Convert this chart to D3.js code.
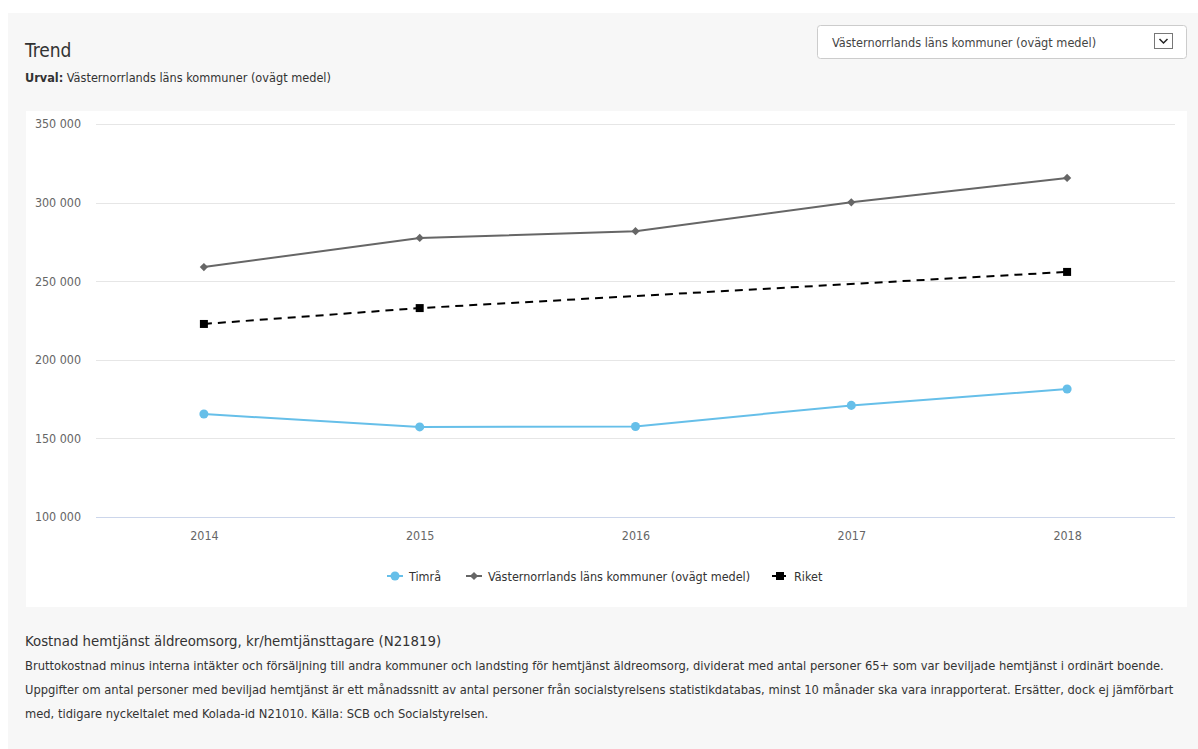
<!DOCTYPE html>
<html>
<head>
<meta charset="utf-8">
<script src="https://cdn.jsdelivr.net/npm/d3@7"></script>
<style>
  html, body { margin: 0; padding: 0; background: #ffffff; }
  svg { display: block; font-family: "DejaVu Sans Condensed", "DejaVu Sans", sans-serif; }
</style>
</head>
<body>
<svg id="chart" width="1198" height="749"></svg>
<script>
// Years on the x axis
const years = ["2014", "2015", "2016", "2017", "2018"];
// Cost per home-care recipient (kr)
const timra = [165500, 157300, 157600, 171000, 181400];
const vasternorrland = [259000, 277500, 281800, 300200, 315700];
const riket = [222800, 232900, null, null, 255900];
// Y axis ticks
const yTicks = [100000, 150000, 200000, 250000, 300000, 350000];

const seriesNames = ["Timrå", "Västernorrlands läns kommuner (ovägt medel)", "Riket"];

const svg = d3.select("#chart");

// Page and panel backgrounds
svg.append("rect").attr("x", 8).attr("y", 13).attr("width", 1190).attr("height", 736).attr("fill", "#f7f7f7");
svg.append("rect").attr("x", 26).attr("y", 111).attr("width", 1161).attr("height", 496).attr("fill", "#ffffff");

// Header
svg.append("text").attr("x", 25).attr("y", 57).attr("font-size", 19).attr("fill", "#333").text("Trend");
const urval = svg.append("text").attr("x", 25).attr("y", 82).attr("font-size", 12.6).attr("fill", "#333");
urval.append("tspan").attr("font-weight", "bold").text("Urval:");
urval.append("tspan").text(" Västernorrlands läns kommuner (ovägt medel)");

// Selection box
svg.append("rect").attr("x", 817.5).attr("y", 25.5).attr("width", 369).attr("height", 33).attr("rx", 3)
  .attr("fill", "#fff").attr("stroke", "#ccc");
svg.append("text").attr("x", 832).attr("y", 47).attr("font-size", 12.6).attr("fill", "#444")
  .text("Västernorrlands läns kommuner (ovägt medel)");
svg.append("rect").attr("x", 1154.5).attr("y", 33.5).attr("width", 18).attr("height", 15)
  .attr("fill", "#fff").attr("stroke", "#777");
svg.append("path").attr("d", "M1159.5,39 L1163.5,43 L1167.5,39").attr("fill", "none")
  .attr("stroke", "#222").attr("stroke-width", 1.5);

// Scales
const x = d3.scalePoint().domain(years).range([96, 1175]).padding(0.5);
const y = d3.scaleLinear().domain([100000, 350000]).range([517, 124]);

const fmt = v => d3.format(",")(v).replace(/,/g, " ");

// Grid lines
svg.append("g").selectAll("line").data(yTicks.filter(t => t > 100000)).join("line")
  .attr("x1", 96).attr("x2", 1175)
  .attr("y1", d => Math.round(y(d)) + 0.5).attr("y2", d => Math.round(y(d)) + 0.5)
  .attr("stroke", "#e6e6e6");

// Y axis labels
const yAxis = svg.append("g").attr("transform", "translate(81,0)")
  .call(d3.axisLeft(y).tickValues(yTicks).tickFormat(fmt).tickSize(0).tickPadding(0));
yAxis.select(".domain").remove();
yAxis.selectAll("text").attr("font-size", 12.4).attr("fill", "#666")
  .attr("font-family", "'DejaVu Sans Condensed', sans-serif");

// X axis
const xAxis = svg.append("g").attr("transform", "translate(0,517.5)")
  .call(d3.axisBottom(x).tickSize(0).tickPadding(14));
xAxis.select(".domain").attr("stroke", "#ccd6eb").attr("d", "M96,0H1175");
xAxis.selectAll("text").attr("font-size", 12.4).attr("fill", "#666")
  .attr("font-family", "'DejaVu Sans Condensed', sans-serif");

// Rhombus marker: a square turned 45 degrees
const rhombus = {
  draw(ctx, size) {
    const r = Math.sqrt(size) / 2 * Math.SQRT2;
    ctx.moveTo(0, -r); ctx.lineTo(r, 0); ctx.lineTo(0, r); ctx.lineTo(-r, 0); ctx.closePath();
  }
};

// Series definitions
const series = [
  { name: seriesNames[0], values: timra, color: "#66bfe9", dash: null, symbol: d3.symbolCircle, size: 64 },
  { name: seriesNames[1], values: vasternorrland, color: "#666666", dash: null, symbol: rhombus, size: 34 },
  { name: seriesNames[2], values: riket, color: "#000000", dash: "8,6", symbol: d3.symbolSquare, size: 64 }
];

const line = d3.line().x(d => x(d.year)).y(d => y(d.value));

series.forEach(s => {
  const pts = years.map((yr, i) => ({ year: yr, value: s.values[i] })).filter(p => p.value != null);
  svg.append("path").datum(pts).attr("d", line)
    .attr("fill", "none").attr("stroke", s.color).attr("stroke-width", 2)
    .attr("stroke-dasharray", s.dash);
  svg.append("g").selectAll("path").data(pts).join("path")
    .attr("transform", d => `translate(${x(d.year)},${y(d.value)})`)
    .attr("d", d3.symbol().type(s.symbol).size(s.size))
    .attr("fill", s.color);
});

// Legend
const legendX = [387, 466, 772];
const legend = svg.append("g");
series.forEach((s, i) => {
  const g = legend.append("g").attr("transform", `translate(${legendX[i]},576)`);
  g.append("line").attr("x1", 0).attr("x2", 16).attr("y1", 0).attr("y2", 0)
    .attr("stroke", s.color).attr("stroke-width", 2).attr("stroke-dasharray", s.dash ? "6,2" : null);
  g.append("path").attr("transform", "translate(8,0)")
    .attr("d", d3.symbol().type(s.symbol).size(s.size)).attr("fill", s.color);
  g.append("text").attr("x", 22).attr("y", 4.5).attr("font-size", 12.5).attr("fill", "#333").text(s.name);
});

// Description
svg.append("text").attr("x", 25).attr("y", 646).attr("font-size", 14.8).attr("fill", "#333")
  .text("Kostnad hemtjänst äldreomsorg, kr/hemtjänsttagare (N21819)");
const desc = [
  "Bruttokostnad minus interna intäkter och försäljning till andra kommuner och landsting för hemtjänst äldreomsorg, dividerat med antal personer 65+ som var beviljade hemtjänst i ordinärt boende.",
  "Uppgifter om antal personer med beviljad hemtjänst är ett månadssnitt av antal personer från socialstyrelsens statistikdatabas, minst 10 månader ska vara inrapporterat. Ersätter, dock ej jämförbart",
  "med, tidigare nyckeltalet med Kolada-id N21010. Källa: SCB och Socialstyrelsen."
];
svg.append("g").selectAll("text").data(desc).join("text")
  .attr("x", 25).attr("y", (d, i) => 670 + i * 24)
  .attr("font-size", 12.8).attr("fill", "#333").text(d => d);
</script>
</body>
</html>
